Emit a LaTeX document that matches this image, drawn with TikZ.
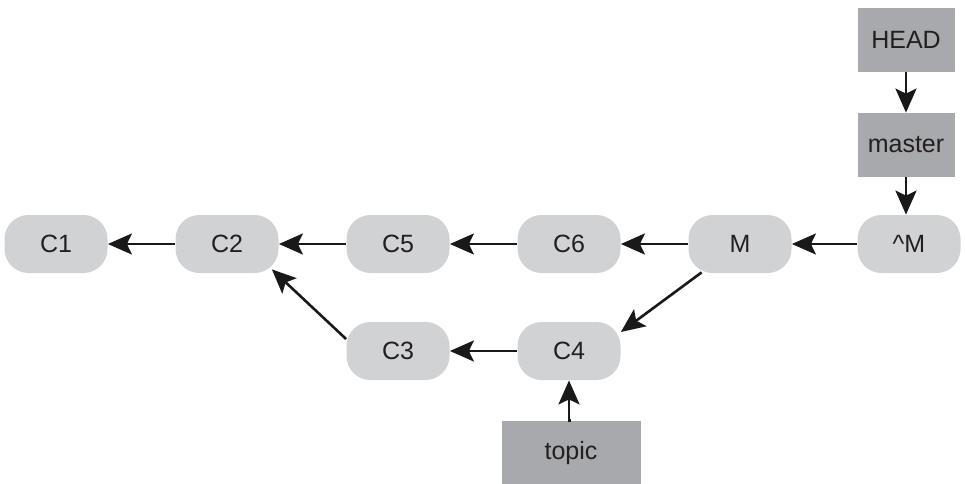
\documentclass[tikz,border=0pt]{standalone}
\usepackage{fontspec}
\setmainfont{Liberation Sans}
\usetikzlibrary{arrows.meta,positioning,calc}

\definecolor{commitgray}{HTML}{D1D2D4}
\definecolor{refgray}{HTML}{A7A9AC}
\definecolor{inkgray}{HTML}{231F20}

\begin{document}
\begin{tikzpicture}[x=0.5pt, y=-0.5pt,
  commit/.style={rectangle, rounded corners=12pt, fill=commitgray,
                 minimum width=51.5pt, minimum height=29pt, inner sep=0pt,
                 font=\fontsize{12.5}{14}\selectfont, text=inkgray},
  branchref/.style={rectangle, fill=refgray, minimum width=48.5pt,
                 minimum height=32pt, inner sep=0pt,
                 font=\fontsize{12.5}{14}\selectfont, text=inkgray},
  edge/.style={draw, -{Stealth[length=12pt,width=10.5pt,inset=2.5pt]},
               line width=1.3pt, black!90},
]
  \useasboundingbox (0,0) rectangle (965,483);

  % Row y-coordinates
  \def\ymain{244}
  \def\ytopic{351}

  % Main line of commits
  \node[commit] (c1) at (56,\ymain)  {C1};
  \node[commit] (c2) at (227,\ymain) {C2};
  \node[commit] (c5) at (398,\ymain) {C5};
  \node[commit] (c6) at (569,\ymain) {C6};
  \node[commit] (m)  at (740,\ymain) {M};
  \node[commit] (um) at (909,\ymain) {\textasciicircum M};

  % Topic line of commits
  \node[commit] (c3) at (398,\ytopic) {C3};
  \node[commit] (c4) at (569,\ytopic) {C4};

  % References
  \node[branchref] (head)   at (906,40)  {HEAD};
  \node[branchref] (master) at (906,145) {master};
  \node[branchref, minimum width=69.5pt] (topic) at (571,453) {topic};

  % Parent edges
  \draw[edge] (c2) -- (c1);
  \draw[edge] (c5) -- (c2);
  \draw[edge] (c6) -- (c5);
  \draw[edge] (m) -- (c6);
  \draw[edge] (um) -- (m);
  \draw[edge] (c4) -- (c3);
  \draw[edge] ($(m.south west)+(13.5,-1)$) -- ($(c4.east)+(0,-19)$);
  \draw[edge] ($(c3.west)+(0,-12)$) -- ($(c2.south east)+(-7,-4)$);

  % Reference edges
  \draw[edge] (head) -- (master);
  \draw[edge] (master.south) -- (master.south |- um.north);
  \draw[edge] (topic.north) -- (topic.north -| c4.south) -- (c4.south);

\end{tikzpicture}
\end{document}
